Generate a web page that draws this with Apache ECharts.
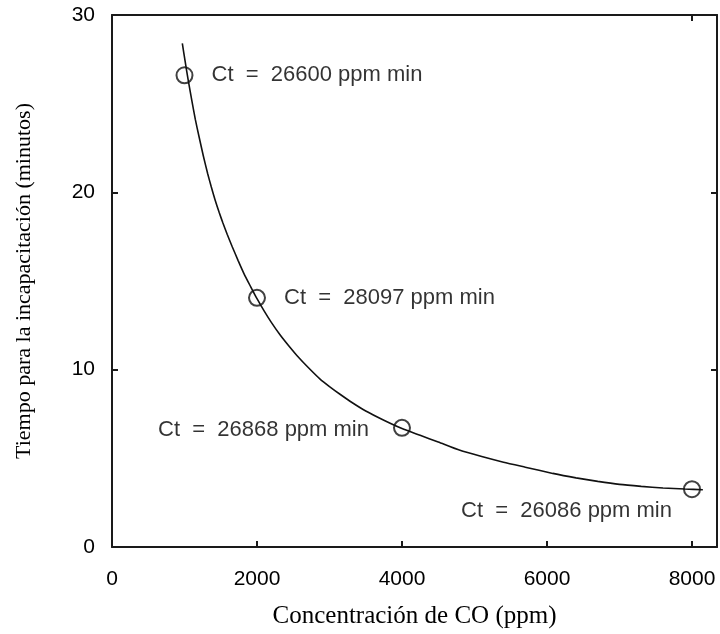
<!DOCTYPE html>
<html>
<head>
<meta charset="utf-8">
<script src="https://cdn.jsdelivr.net/npm/echarts@6/dist/echarts.min.js"></script>
<style>
  html, body { margin: 0; padding: 0; background: #fff; }
  #chart { width: 720px; height: 634px; }
</style>
</head>
<body>
<div id="chart"></div>
<script>
// ---- data ----
var concentration = [1000, 2000, 4000, 8000];          // ppm
var timeToIncap   = [26.6, 14.05, 6.72, 3.26];         // minutos
var ctValues      = ['26600', '28097', '26868', '26086'];

// fitted curve
var curveX = [970, 1010, 1050, 1100, 1150, 1200, 1260, 1320, 1370, 1420, 1480, 1530, 1590, 1660, 1740, 1820, 1910, 2000,
              2100, 2200, 2320, 2440, 2550, 2700, 2870, 3000, 3150, 3310, 3500, 3750, 4000, 4250, 4500, 4800,
              5100, 5400, 5700, 6080, 6400, 6700, 7000, 7300, 7600, 7900, 8150];
var curveY = [28.4, 27.35, 26.35, 25.2, 24.1, 23.15, 22.05, 21.05, 20.3, 19.6, 18.85, 18.27, 17.62, 16.92, 16.15, 15.42, 14.7, 14.0,
              13.3, 12.65, 11.95, 11.33, 10.8, 10.15, 9.47, 9.05, 8.6, 8.15, 7.67, 7.15, 6.68, 6.3, 5.92, 5.45,
              5.1, 4.78, 4.5, 4.15, 3.9, 3.7, 3.53, 3.42, 3.33, 3.27, 3.23];

var xTicks = [0, 2000, 4000, 6000, 8000];
var yTicks = [0, 10, 20, 30];

// ---- styles (kept apart from data) ----
var sansFont = "'Liberation Sans', Arial, sans-serif";
var serifFont = "'Liberation Serif', 'Times New Roman', serif";
var axisColor = '#1a1a1a';
var labelPlacement = [
  { position: 'right', distance: 18, offset: [0, 0] },
  { position: 'right', distance: 18, offset: [0, 0] },
  { position: 'left',  distance: 24, offset: [0, 2] },
  { position: 'left',  distance: 11, offset: [0, 22] }
];

var scatterData = concentration.map(function (c, i) {
  return {
    value: [c, timeToIncap[i]],
    label: {
      show: true,
      position: labelPlacement[i].position,
      distance: labelPlacement[i].distance,
      offset: labelPlacement[i].offset,
      formatter: 'Ct  =  ' + ctValues[i] + ' ppm min'
    }
  };
});
var curveData = curveX.map(function (x, i) { return [x, curveY[i]]; });

var chart = echarts.init(document.getElementById('chart'), null, { renderer: 'canvas' });

var baseX = {
  type: 'value', min: 0, max: 8345, interval: 2000,
  axisLine: { show: true, onZero: false, lineStyle: { color: axisColor, width: 2 } },
  splitLine: { show: false }
};
var baseY = {
  type: 'value', min: 0, max: 30, interval: 10,
  axisLine: { show: true, onZero: false, lineStyle: { color: axisColor, width: 2 } },
  splitLine: { show: false }
};

chart.setOption({
  backgroundColor: '#ffffff',
  animation: false,
  grid: { left: 112, right: 3, top: 15, bottom: 85, containLabel: false },
  xAxis: [
    Object.assign({}, baseX, {
      position: 'bottom',
      name: 'Concentración de CO (ppm)',
      nameLocation: 'middle',
      nameGap: 57,
      nameTextStyle: { fontFamily: serifFont, fontSize: 25, color: '#000' },
      axisTick: { show: true, inside: true, length: 6, lineStyle: { color: axisColor, width: 2 }, customValues: [2000, 4000, 6000, 8000] },
      axisLabel: {
        show: true, margin: 22, fontFamily: sansFont, fontSize: 21, color: '#000',
        customValues: xTicks,
        formatter: function (v) { return String(v); }
      }
    }),
    Object.assign({}, baseX, {
      position: 'top',
      axisTick: { show: true, inside: true, length: 6, lineStyle: { color: axisColor, width: 2 }, customValues: [8000] },
      axisLabel: { show: false }
    })
  ],
  yAxis: [
    Object.assign({}, baseY, {
      position: 'left',
      name: 'Tiempo para la incapacitación (minutos)',
      nameLocation: 'middle',
      nameGap: 77,
      nameRotate: 90,
      nameTextStyle: { fontFamily: serifFont, fontSize: 22, color: '#000' },
      axisTick: { show: true, inside: true, length: 6, lineStyle: { color: axisColor, width: 2 }, customValues: [10, 20] },
      axisLabel: {
        show: true, margin: 17, fontFamily: sansFont, fontSize: 21, color: '#000',
        customValues: yTicks
      }
    }),
    Object.assign({}, baseY, {
      position: 'right',
      axisTick: { show: true, inside: true, length: 6, lineStyle: { color: axisColor, width: 2 }, customValues: [10, 20] },
      axisLabel: { show: false }
    })
  ],
  series: [
    {
      type: 'line',
      xAxisIndex: 0, yAxisIndex: 0,
      data: curveData,
      smooth: 0.2,
      showSymbol: false,
      silent: true,
      lineStyle: { color: '#111', width: 1.6 },
      z: 2
    },
    {
      type: 'scatter',
      xAxisIndex: 0, yAxisIndex: 0,
      data: scatterData,
      symbol: 'circle',
      symbolSize: 16,
      itemStyle: { color: 'rgba(0,0,0,0)', borderColor: '#111', borderWidth: 2 },
      label: { fontFamily: sansFont, fontSize: 22, color: '#000' },
      z: 3
    }
  ]
});
</script>
</body>
</html>
